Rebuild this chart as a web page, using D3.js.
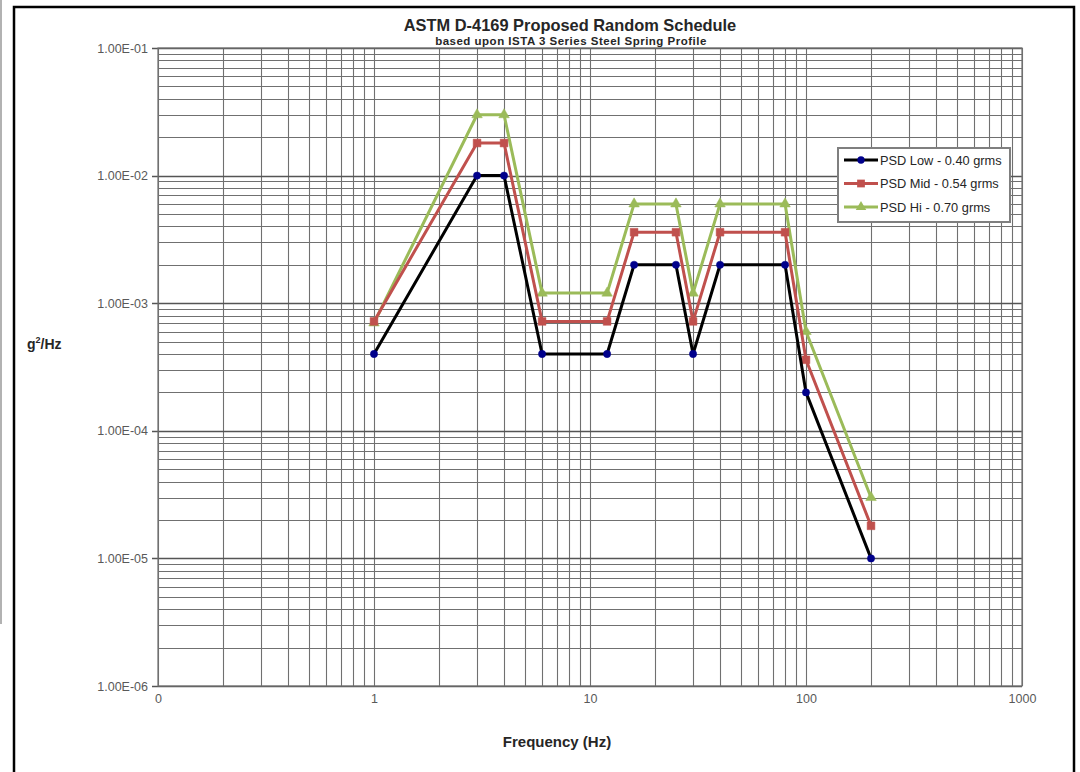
<!DOCTYPE html>
<html><head><meta charset="utf-8">
<script src="https://cdn.jsdelivr.net/npm/d3@7"></script>
<style>body{margin:0;background:#fff;}svg{display:block;font-family:Arial,"Liberation Sans",sans-serif;}</style>
</head><body>
<svg id="chart" width="1080" height="772"></svg>
<script>
const freqs = [1, 3, 4, 6, 12, 16, 25, 30, 40, 80, 100, 200];
const psdLow = [4e-4, 1e-2, 1e-2, 4e-4, 4e-4, 2e-3, 2e-3, 4e-4, 2e-3, 2e-3, 2e-4, 1e-5];
const psdMid = [7.2e-4, 1.8e-2, 1.8e-2, 7.2e-4, 7.2e-4, 3.6e-3, 3.6e-3, 7.2e-4, 3.6e-3, 3.6e-3, 3.6e-4, 1.8e-5];
const psdHi = [7.0e-4, 3e-2, 3e-2, 1.2e-3, 1.2e-3, 6e-3, 6e-3, 1.2e-3, 6e-3, 6e-3, 6e-4, 3e-5];
const seriesNames = ["PSD Low - 0.40 grms", "PSD Mid - 0.54 grms", "PSD Hi - 0.70 grms"];
const xTickValues = [0.1, 1, 10, 100, 1000];
const xTickLabels = ["0", "1", "10", "100", "1000"];
const yTickValues = [1e-1, 1e-2, 1e-3, 1e-4, 1e-5, 1e-6];
const yTickLabels = ["1.00E-01", "1.00E-02", "1.00E-03", "1.00E-04", "1.00E-05", "1.00E-06"];

const svg = d3.select("#chart");
const L = 158, R = 1022, T = 48, B = 686;
const x = d3.scaleLog().domain([0.1, 1000]).range([L, R]);
const y = d3.scaleLog().domain([1e-6, 1e-1]).range([B, T]);
const FONT = "Arial, 'Liberation Sans', sans-serif";

// side artifact + outer frame
svg.append("line").attr("x1", 1).attr("x2", 1).attr("y1", 0).attr("y2", 624).attr("stroke", "#999").attr("stroke-width", 1.5);
svg.append("rect").attr("x", 14).attr("y", 7).attr("width", 1060).attr("height", 775)
  .attr("fill", "none").attr("stroke", "#000").attr("stroke-width", 2.5);

// grid
const g = svg.append("g");
const xGrid = [];
for (let d = 0.1; d < 1000; d *= 10) for (let k = 1; k <= 9; k++) xGrid.push(d * k);
xGrid.push(1000);
const yGrid = [];
for (let d = 1e-6; d < 0.1; d *= 10) for (let k = 1; k <= 9; k++) yGrid.push(d * k);
yGrid.push(0.1);
g.selectAll(".vx").data(xGrid).join("line")
  .attr("x1", d => Math.round(x(d)) + 0.5).attr("x2", d => Math.round(x(d)) + 0.5)
  .attr("y1", T).attr("y2", B).attr("stroke", "#707070").attr("stroke-width", 1.1);
g.selectAll(".hy").data(yGrid).join("line")
  .attr("y1", d => Math.round(y(d)) + 0.5).attr("y2", d => Math.round(y(d)) + 0.5)
  .attr("x1", L).attr("x2", R).attr("stroke", "#707070").attr("stroke-width", 1.1);
g.selectAll(".hmaj").data(yTickValues).join("line")
  .attr("y1", d => Math.round(y(d)) + 0.5).attr("y2", d => Math.round(y(d)) + 0.5)
  .attr("x1", L - 6).attr("x2", R).attr("stroke", "#555").attr("stroke-width", 1.3);
g.append("rect").attr("x", L).attr("y", T).attr("width", R - L).attr("height", B - T)
  .attr("fill", "none").attr("stroke", "#707070").attr("stroke-width", 1.2);

// axes labels
const yAxis = d3.axisLeft(y).tickValues(yTickValues).tickFormat((d, i) => yTickLabels[i]).tickSize(0).tickPadding(10);
svg.append("g").attr("transform", `translate(${L},0)`).call(yAxis)
  .call(s => s.select(".domain").remove())
  .selectAll("text").attr("fill", "#595959").attr("font-size", 12.5).attr("font-family", FONT);
const xAxis = d3.axisBottom(x).tickValues(xTickValues).tickFormat((d, i) => xTickLabels[i]).tickSize(0).tickPadding(8);
svg.append("g").attr("transform", `translate(0,${B})`).call(xAxis)
  .call(s => s.select(".domain").remove())
  .selectAll("text").attr("fill", "#595959").attr("font-size", 12.5).attr("font-family", FONT);

// titles
svg.append("text").attr("x", 570).attr("y", 31).attr("text-anchor", "middle")
  .attr("font-weight", "bold").attr("font-size", 16.4).attr("fill", "#262626").text("ASTM D-4169 Proposed Random Schedule");
svg.append("text").attr("x", 571).attr("y", 45).attr("text-anchor", "middle")
  .attr("font-weight", "bold").attr("font-size", 11.5).attr("letter-spacing", 0.5).attr("fill", "#262626").text("based upon ISTA 3 Series Steel Spring Profile");
svg.append("text").attr("x", 557).attr("y", 747).attr("text-anchor", "middle")
  .attr("font-weight", "bold").attr("font-size", 15).attr("fill", "#262626").text("Frequency (Hz)");
const yl = svg.append("text").attr("x", 27).attr("y", 349).attr("font-weight", "bold").attr("font-size", 14).attr("fill", "#262626");
yl.append("tspan").text("g");
yl.append("tspan").attr("dy", -6).attr("font-size", 9).text("2");
yl.append("tspan").attr("dy", 6).text("/Hz");

// series
const series = [
  {vals: psdLow, line: "#000000", mark: "#00008b", shape: "circle"},
  {vals: psdMid, line: "#c0504d", mark: "#c0504d", shape: "square"},
  {vals: psdHi, line: "#9bbb59", mark: "#9bbb59", shape: "triangle"}
];
const lineGen = d3.line().x(d => x(d[0])).y(d => y(d[1]));
const sym = {circle: d3.symbolCircle, square: d3.symbolSquare, triangle: d3.symbolTriangle};
const sizes = {circle: 42, square: 60, triangle: 48};
series.slice().reverse().forEach(s => {
  const pts = freqs.map((f, i) => [f, s.vals[i]]);
  svg.append("path").datum(pts).attr("d", lineGen).attr("fill", "none")
    .attr("stroke", s.line).attr("stroke-width", 3).attr("stroke-linejoin", "round");
  svg.selectAll(null).data(pts).join("path")
    .attr("transform", d => `translate(${x(d[0])},${y(d[1])})`)
    .attr("d", d3.symbol().type(sym[s.shape]).size(sizes[s.shape]))
    .attr("fill", s.mark).attr("stroke", s.mark).attr("stroke-width", 0.5);
});

// legend
const lg = svg.append("g").attr("transform", "translate(838,148)");
lg.append("rect").attr("width", 172).attr("height", 74).attr("fill", "#fff").attr("stroke", "#7f7f7f").attr("stroke-width", 2);
seriesNames.forEach((n, i) => {
  const yy = 12 + i * 23.5;
  lg.append("line").attr("x1", 6).attr("x2", 40).attr("y1", yy).attr("y2", yy).attr("stroke", series[i].line).attr("stroke-width", 3);
  lg.append("path").attr("transform", `translate(23,${yy})`)
    .attr("d", d3.symbol().type(sym[series[i].shape]).size(sizes[series[i].shape]))
    .attr("fill", series[i].mark);
  lg.append("text").attr("x", 42).attr("y", yy + 4.5).attr("font-size", 12.8).attr("fill", "#262626").text(n);
});
</script>
</body></html>
